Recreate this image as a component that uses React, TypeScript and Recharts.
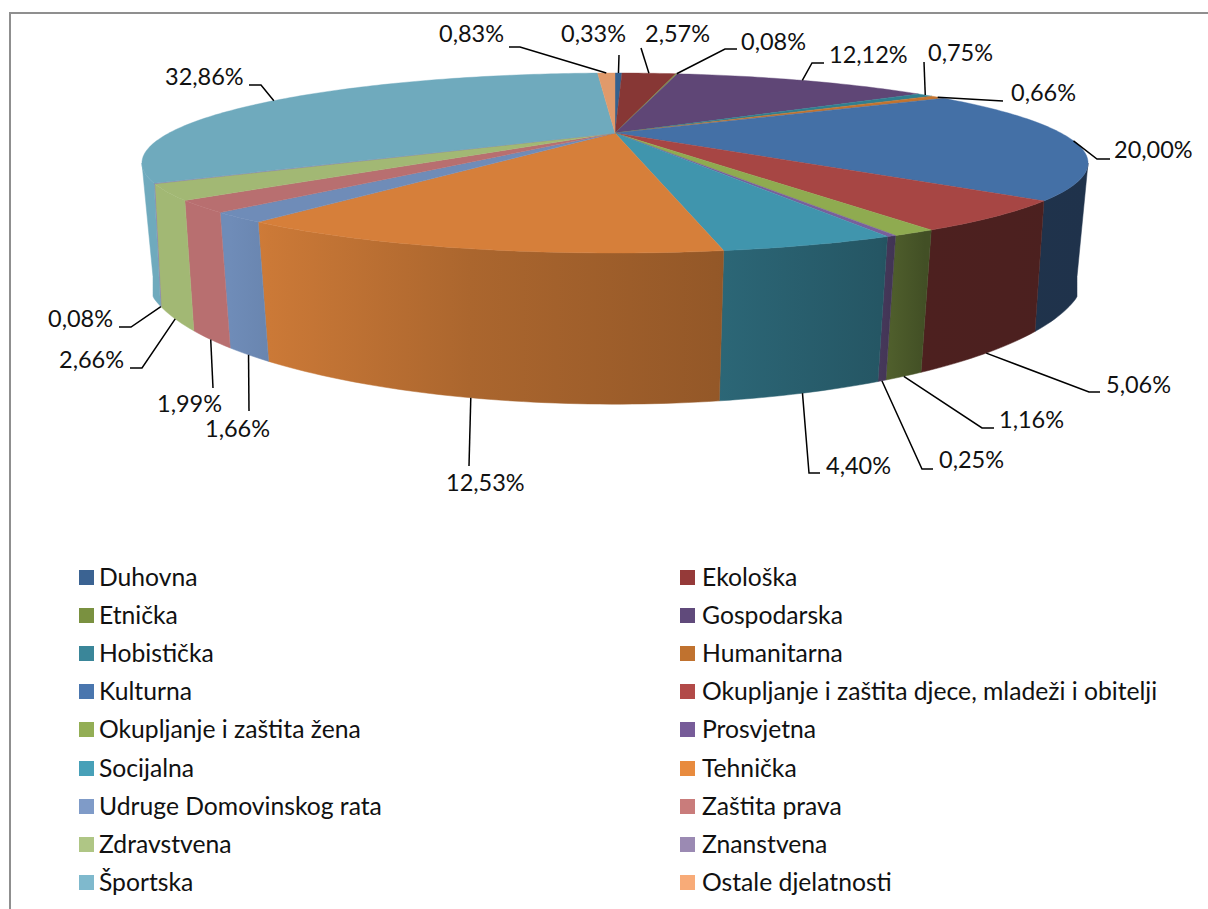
import React from "react";
import { PieChart, Pie, Legend } from "recharts";

const categories = [
  "Duhovna",
  "Ekološka",
  "Etnička",
  "Gospodarska",
  "Hobistička",
  "Humanitarna",
  "Kulturna",
  "Okupljanje i zaštita djece, mladeži i obitelji",
  "Okupljanje i zaštita žena",
  "Prosvjetna",
  "Socijalna",
  "Tehnička",
  "Udruge Domovinskog rata",
  "Zaštita prava",
  "Zdravstvena",
  "Znanstvena",
  "Športska",
  "Ostale djelatnosti",
];
const shares = [0.33, 2.57, 0.08, 12.12, 0.75, 0.66, 20.0, 5.06, 1.16, 0.25, 4.4, 12.53, 1.66, 1.99, 2.66, 0.08, 32.86, 0.83];
const legendColors = [
  "#3b6392", "#953a39", "#7a9140", "#604a7b", "#3a8699", "#c0722f", "#4a76ae", "#b24a48", "#93ae55",
  "#775c99", "#47a0b8", "#e88b3e", "#7f9bc8", "#c97c7b", "#afc685", "#9b8ab3", "#7fb9cd", "#f8ab78",
];
const topColors = [
  "#34618f", "#873735", "#7b8f45", "#5f4676", "#2f8090", "#c4742f", "#4470a6", "#a74644", "#8fab50",
  "#78609c", "#4095ad", "#d67f3a", "#6f8cb8", "#b86f70", "#a2b874", "#8f7fa8", "#6faabd", "#e09a6b",
];

// shading of the side wall across the picture: [x, brightness]
const wallShade = [[142, 1], [230, 1], [270, 0.95], [470, 0.8], [715, 0.69], [880, 0.58], [925, 0.46], [1090, 0.45]];

// label text (left x, middle y) and the elbow of its leader line
const labelSpots = [
  { x: 561, y: 34, leader: [[619, 55]] },
  { x: 645, y: 34, leader: [[641, 48]] },
  { x: 741, y: 42, leader: [[737, 49], [725, 49]] },
  { x: 829, y: 55, leader: [[824, 63], [812, 63]] },
  { x: 928, y: 53, leader: [[924, 62]] },
  { x: 1011, y: 93, leader: [[1003, 101]] },
  { x: 1114, y: 150, leader: [[1110, 159], [1097, 159]] },
  { x: 1106, y: 385, leader: [[1100, 392], [1089, 392]] },
  { x: 999, y: 420, leader: [[994, 428], [982, 428]] },
  { x: 939, y: 460, leader: [[933, 469], [922, 469]] },
  { x: 826, y: 466, leader: [[820, 473], [809, 473]] },
  { x: 446, y: 483, leader: [[469, 466]] },
  { x: 205, y: 429, leader: [[249, 411]] },
  { x: 157, y: 404, leader: [[213, 388]] },
  { x: 59, y: 360, leader: [[130, 368], [142, 368]] },
  { x: 48, y: 319, leader: [[119, 327], [131, 327]] },
  { x: 165, y: 77, leader: [[249, 85], [261, 85]] },
  { x: 439, y: 34, leader: [[509, 47], [520, 47]] },
];

const data = categories.map((name, i) => ({ name, value: shares[i], fill: legendColors[i] }));

const FONT = "Lato, sans-serif";

// perspective of the two circles of the disc
const TOP = { dy: 0, rx: 446, ry: 80, p: 1 / 3 };
const BOTTOM = { dy: 99, rx: 449, ry: 120.5, p: 0.3, maxX: 462 };
// the wall only shows from one side of the disc to the other
const WALL_FROM = -19.47;
const WALL_TO = -160.53;

function project(cx: number, cy: number, angle: number, plane: any) {
  const rad = (angle * Math.PI) / 180;
  const u = Math.cos(rad);
  const v = -Math.sin(rad);
  const w = 1 - plane.p * v;
  let dx = (plane.rx * u) / w;
  if (plane.maxX) dx = Math.max(-plane.maxX, Math.min(plane.maxX, dx));
  return { x: cx + dx, y: cy + plane.dy + (plane.ry * v) / w, v };
}

function arc(cx: number, cy: number, from: number, to: number, plane: any) {
  const steps = Math.max(1, Math.ceil(Math.abs(to - from)));
  const pts = [];
  for (let i = 0; i <= steps; i++) {
    const p = project(cx, cy, from + ((to - from) * i) / steps, plane);
    pts.push(`${p.x.toFixed(2)},${p.y.toFixed(2)}`);
  }
  return pts;
}

function shaded(hex: string, k: number) {
  const c = [1, 3, 5].map((i) => Math.round(parseInt(hex.slice(i, i + 2), 16) * k));
  return `rgb(${c[0]},${c[1]},${c[2]})`;
}

function WallSector(props: any) {
  const { cx, cy, startAngle, endAngle, index } = props;
  const from = Math.min(startAngle, WALL_FROM);
  const to = Math.max(endAngle, WALL_TO);
  if (from <= to) return <g />;
  const top = arc(cx, cy, from, to, TOP);
  const bottom = arc(cx, cy, to, from, BOTTOM);
  const id = `wall-${index}`;
  return (
    <g>
      <defs>
        <linearGradient id={id} gradientUnits="userSpaceOnUse" x1={142} x2={1090} y1={0} y2={0}>
          {wallShade.map(([x, k]) => (
            <stop key={x} offset={(x - 142) / 948} stopColor={shaded(topColors[index], k)} />
          ))}
        </linearGradient>
      </defs>
      <path d={`M${top.join("L")}L${bottom.join("L")}Z`} fill={`url(#${id})`} stroke={`url(#${id})`} strokeWidth={0.5} />
    </g>
  );
}

function TopSector(props: any) {
  const { cx, cy, startAngle, endAngle, index } = props;
  const rim = arc(cx, cy, startAngle, endAngle, TOP);
  return <path d={`M${cx},${cy}L${rim.join("L")}Z`} fill={topColors[index]} stroke={topColors[index]} strokeWidth={0.4} />;
}

function SliceLabel(props: any) {
  const { cx, cy, midAngle, index, value } = props;
  const spot = labelSpots[index];
  const back = project(cx, cy, midAngle, TOP);
  const end = back.v < 0.2 ? back : project(cx, cy, midAngle, BOTTOM);
  const line = [...spot.leader, [end.x, end.y]].map((p) => p.join(",")).join(" ");
  return (
    <g>
      <polyline points={line} fill="none" stroke="#000" strokeWidth={1.5} />
      <text x={spot.x} y={spot.y} dy="0.35em" fontFamily={FONT} fontSize={23.5} fill="#111" textAnchor="start">
        {value.toFixed(2).replace(".", ",")}%
      </text>
    </g>
  );
}

function TwoColumnLegend({ payload }: any) {
  // both pies report their slices, one set of entries is enough
  const items = (payload || []).slice(0, categories.length);
  return (
    <div style={{ position: "relative", width: 1208, height: 330, fontFamily: FONT, fontSize: 24.7, color: "#111" }}>
      {items.map((item: any, i: number) => {
        const left = i % 2 === 0 ? 79 : 680;
        const top = Math.floor(i / 2) * 38.1;
        return (
          <div
            key={item.value}
            style={{ position: "absolute", left, top: top - 6, height: 27, display: "flex", alignItems: "center", whiteSpace: "nowrap" }}
          >
            <span style={{ width: 15, height: 15, marginRight: i % 2 === 0 ? 5 : 7, background: item.color }} />
            <span style={{ lineHeight: "27px", position: "relative", top: -1 }}>{item.value}</span>
          </div>
        );
      })}
    </div>
  );
}

export default function App() {
  return (
    <div style={{ position: "absolute", left: 0, top: 0, width: 1208, height: 909, overflow: "hidden", background: "#fff" }}>
      <div style={{ position: "absolute", left: 9, top: 12, width: 1300, height: 1000, border: "2px solid #8f8f8f" }} />
      <PieChart width={1208} height={909} margin={{ top: 0, right: 0, bottom: 0, left: 0 }} accessibilityLayer={false}>
        <Pie
          data={data}
          dataKey="value"
          nameKey="name"
          cx={615}
          cy={133}
          outerRadius={100}
          startAngle={90}
          endAngle={-270}
          stroke="none"
          legendType="none"
          shape={WallSector}
          isAnimationActive={false}
        />
        <Pie
          data={data}
          dataKey="value"
          nameKey="name"
          cx={615}
          cy={133}
          outerRadius={100}
          startAngle={90}
          endAngle={-270}
          stroke="none"
          shape={TopSector}
          label={SliceLabel}
          labelLine={false}
          isAnimationActive={false}
        />
        <Legend
          content={TwoColumnLegend}
          itemSorter={null}
          wrapperStyle={{ position: "absolute", left: 0, top: 570, width: 1208, height: 330 }}
        />
      </PieChart>
    </div>
  );
}
